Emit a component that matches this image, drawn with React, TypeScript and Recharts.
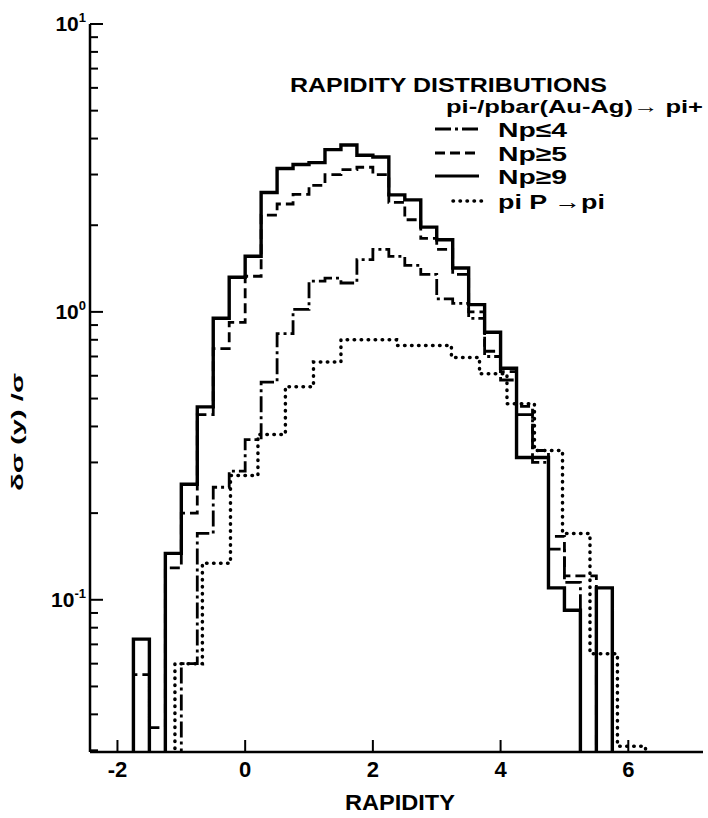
import React from 'react';
import { LineChart, Line, XAxis, YAxis, Legend } from 'recharts';

// lower bin edges (0.25 wide) for the Au-Ag samples, last entry closes the last bin
const binEdges = [-1.75, -1.5, -1.25, -1, -0.75, -0.5, -0.25, 0, 0.25, 0.5, 0.75, 1, 1.25, 1.5, 1.75, 2, 2.25, 2.5, 2.75, 3, 3.25, 3.5, 3.75, 4, 4.25, 4.5, 4.75, 5, 5.25, 5.5, 5.75, 6];

const np9 = [0.073, 0, 0.145, 0.252, 0.468, 0.95, 1.32, 1.56, 2.6, 3.15, 3.25, 3.3, 3.66, 3.8, 3.5, 3.45, 2.55, 2.45, 1.97, 1.78, 1.42, 1.06, 0.85, 0.637, 0.312, 0.312, 0.11, 0.092, 0, 0.11, 0];
const np5 = [0.055, 0.036, 0.129, 0.2, 0.44, 0.746, 0.92, 1.33, 2.17, 2.37, 2.56, 2.75, 3.0, 3.12, 3.18, 3.0, 2.4, 2.09, 1.8, 1.65, 1.35, 1.0, 0.73, 0.62, 0.47, 0.33, 0.166, 0.121, 0.121, 0, 0];
const np4 = [0, 0, 0, 0.06, 0.17, 0.246, 0.28, 0.36, 0.57, 0.84, 1.02, 1.28, 1.31, 1.26, 1.52, 1.65, 1.56, 1.45, 1.35, 1.11, 1.07, 0.95, 0.7, 0.58, 0.44, 0.3, 0.15, 0.115, 0, 0, 0];

// pi P -> pi reference has its own, wider bins
const ppEdges = [-1.1, -0.67, -0.23, 0.2, 0.63, 1.07, 1.5, 1.93, 2.37, 2.8, 3.23, 3.67, 4.1, 4.53, 4.97, 5.4, 5.83, 6.27];
const ppPi = [0.06, 0.134, 0.27, 0.375, 0.55, 0.67, 0.8, 0.8, 0.765, 0.765, 0.695, 0.61, 0.48, 0.33, 0.17, 0.065, 0.031];

const xTicks = [-2, 0, 2, 4, 6];
const yTicks = [0.03, 0.04, 0.05, 0.06, 0.07, 0.08, 0.09, 0.1, 0.2, 0.3, 0.4, 0.5, 0.6, 0.7, 0.8, 0.9, 1, 2, 3, 4, 5, 6, 7, 8, 9, 10];
const yMajor = [0.1, 1, 10];

const FLOOR = 0.001;
const FONT = '"Liberation Sans", Arial, sans-serif';
const frame = { stroke: '#000', strokeWidth: 2.5 };

function steps(edges: number[], vals: number[]) {
  const pts = [{ x: edges[0], y: FLOOR }];
  vals.forEach((v, i) => pts.push({ x: edges[i], y: v > 0 ? v : FLOOR }));
  const last = vals[vals.length - 1];
  pts.push({ x: edges[vals.length], y: last > 0 ? last : FLOOR });
  pts.push({ x: edges[vals.length], y: FLOOR });
  return pts;
}

const legendRows = [
  { label: 'Np≤4', dash: '16 4 3 4', y: 129, width: 2.8 },
  { label: 'Np≥5', dash: '10 5', y: 153, width: 2.8 },
  { label: 'Np≥9', dash: undefined, y: 176, width: 3.2 },
];

const LeftTick = (p: any) => {
  const v = p.payload.value;
  const major = yMajor.includes(v);
  const exp = Math.round(Math.log10(v));
  return (
    <g>
      <line x1={p.x} y1={p.y} x2={p.x + (major ? 13 : 8)} y2={p.y} stroke="#000" strokeWidth={2} />
      {major && (
        <text x={p.x - 4} y={p.y + 7} textAnchor="end" fontFamily={FONT} fontWeight="bold" fontSize={21} fill="#000">
          10<tspan dy={-9} fontSize={13}>{exp}</tspan>
        </text>
      )}
    </g>
  );
};

const RightTick = (p: any) => {
  const major = yMajor.includes(p.payload.value);
  return <line x1={p.x} y1={p.y} x2={p.x - (major ? 13 : 8)} y2={p.y} stroke="#000" strokeWidth={2} />;
};

const BottomTick = (p: any) => (
  <g>
    <line x1={p.x} y1={p.y} x2={p.x} y2={p.y - 12} stroke="#000" strokeWidth={2} />
    <text x={p.x} y={p.y + 25} textAnchor="middle" fontFamily={FONT} fontWeight="bold" fontSize={22} fill="#000">
      {p.payload.value}
    </text>
  </g>
);

const TopTick = (p: any) => <line x1={p.x} y1={p.y} x2={p.x} y2={p.y + 12} stroke="#000" strokeWidth={2} />;

const XTitle = () => (
  <text x={400} y={810} textAnchor="middle" fontFamily={FONT} fontWeight="bold" fontSize={22} textLength={110} lengthAdjust="spacingAndGlyphs">
    RAPIDITY
  </text>
);

const YTitle = () => (
  <text x={17} y={432} transform="rotate(-90 17 432)" textAnchor="middle" dominantBaseline="central" fontFamily={FONT} fontWeight="bold" fontSize={17} textLength={118} lengthAdjust="spacingAndGlyphs">
    δσ (y) /σ
  </text>
);

const LegendBox = () => (
  <svg width={708} height={230} style={{ display: 'block' }}>
    <text x={290} y={84} dominantBaseline="central" fontFamily={FONT} fontWeight="bold" fontSize={21} textLength={317} lengthAdjust="spacingAndGlyphs">
      RAPIDITY DISTRIBUTIONS
    </text>
    <text x={446} y={106} dominantBaseline="central" fontFamily={FONT} fontWeight="bold" fontSize={19} textLength={257} lengthAdjust="spacingAndGlyphs">
      pi-/pbar(Au-Ag)→ pi+
    </text>
    {legendRows.map((r) => (
      <g key={r.label}>
        <line x1={435} x2={479} y1={r.y} y2={r.y} stroke="#000" strokeWidth={r.width} strokeDasharray={r.dash} />
        <text x={498} y={r.y} dominantBaseline="central" fontFamily={FONT} fontWeight="bold" fontSize={21} textLength={69} lengthAdjust="spacingAndGlyphs">
          {r.label}
        </text>
      </g>
    ))}
    <line x1={453} x2={485} y1={201} y2={201} stroke="#000" strokeWidth={3.5} strokeDasharray="0.5 6.5" strokeLinecap="round" />
    <text x={498} y={201} dominantBaseline="central" fontFamily={FONT} fontWeight="bold" fontSize={21} textLength={107} lengthAdjust="spacingAndGlyphs">
      pi P →pi
    </text>
  </svg>
);

export default function App() {
  return (
    <div style={{ position: 'absolute', left: 0, top: 0, background: '#fff' }}>
      <LineChart width={708} height={818} margin={{ top: 24, right: 5, bottom: 6, left: 40 }}>
        <XAxis xAxisId="b" type="number" dataKey="x" domain={[-2.43, 7.17]} allowDataOverflow ticks={xTicks} interval={0}
          height={60} tickSize={0} tickMargin={0} tickLine={false} axisLine={frame} tick={BottomTick} label={<XTitle />} />
        <XAxis xAxisId="t" orientation="top" type="number" dataKey="x" domain={[-2.43, 7.17]} allowDataOverflow ticks={xTicks} interval={0}
          height={0} tickSize={0} tickMargin={0} tickLine={false} axisLine={frame} tick={TopTick} />
        <YAxis yAxisId="l" type="number" scale="log" domain={[0.0296, 10]} allowDataOverflow ticks={yTicks} interval={0}
          width={50} tickSize={0} tickMargin={0} tickLine={false} axisLine={frame} tick={LeftTick} label={<YTitle />} />
        <YAxis yAxisId="r" orientation="right" type="number" scale="log" domain={[0.0296, 10]} allowDataOverflow ticks={yTicks} interval={0}
          width={0} tickSize={0} tickMargin={0} tickLine={false} axisLine={frame} tick={RightTick} />
        <Legend layout="horizontal" verticalAlign="middle" align="center" content={<LegendBox />}
          wrapperStyle={{ position: 'absolute', left: 0, top: 0, width: 708, height: 230 }} />
        <Line xAxisId="b" yAxisId="l" data={steps(binEdges, np4)} dataKey="y" type="stepAfter" stroke="#000" strokeWidth={2.8}
          strokeDasharray="16 4 3 4" dot={false} activeDot={false} isAnimationActive={false} name="Np≤4" />
        <Line xAxisId="b" yAxisId="l" data={steps(binEdges, np5)} dataKey="y" type="stepAfter" stroke="#000" strokeWidth={2.8}
          strokeDasharray="10 5" dot={false} activeDot={false} isAnimationActive={false} name="Np≥5" />
        <Line xAxisId="b" yAxisId="l" data={steps(binEdges, np9)} dataKey="y" type="stepAfter" stroke="#000" strokeWidth={3.4}
          dot={false} activeDot={false} isAnimationActive={false} name="Np≥9" />
        <Line xAxisId="b" yAxisId="l" data={steps(ppEdges, ppPi)} dataKey="y" type="stepAfter" stroke="#000" strokeWidth={3.5}
          strokeDasharray="0.5 6.5" strokeLinecap="round" dot={false} activeDot={false} isAnimationActive={false} name="pi P →pi" />
      </LineChart>
    </div>
  );
}
